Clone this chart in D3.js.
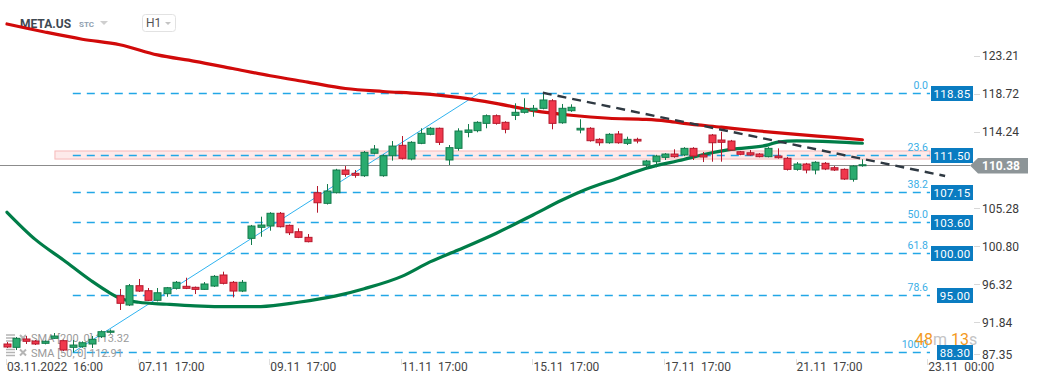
<!DOCTYPE html>
<html>
<head>
<meta charset="utf-8">
<script src="https://cdn.jsdelivr.net/npm/d3@7"></script>
<style>
	body { margin: 0; background: #fff; }
	svg { display: block; font-family: Roboto, "Noto Sans", sans-serif; }
</style>
</head>
<body>
<svg id="chart" width="1041" height="385"></svg>
<script>
// hourly candles, META.US, 03.11 16:00 -> 22.11
var opens = [89.29, 88.90, 89.88, 89.64, 89.37, 89.96, 89.68, 88.90, 88.97, 89.29,
	90.15, 90.67, 94.97, 93.88, 96.15, 95.56, 94.43, 95.21, 95.84, 96.08,
	95.96, 95.72, 96.11, 97.41, 96.55, 95.52, 101.72, 103.02, 103.17, 104.67,
	103.25, 102.50, 101.84, 107.09, 105.84, 107.09, 109.76, 109.37, 109.09, 111.73,
	109.09, 111.44, 112.67, 111.06, 112.90, 113.96, 114.67, 110.94, 112.31, 114.19,
	114.39, 115.25, 116.15, 115.37, 116.19, 116.55, 116.74, 117.02, 117.91, 115.32,
	116.74, 114.47, 114.67, 113.37, 112.97, 114.00, 112.90, 113.37, 110.35, 110.74,
	111.25, 111.64, 111.53, 112.31, 111.53, 113.88, 113.29, 113.17, 111.91, 111.79,
	111.64, 111.33, 111.41, 111.14, 109.84, 110.47, 109.76, 110.55, 110.03, 109.84,
	108.67, 110.27];
var highs = [89.52, 90.11, 90.23, 89.76, 89.70, 90.58, 89.80, 89.76, 89.60, 90.23,
	90.90, 91.00, 95.76, 96.35, 96.94, 95.88, 95.88, 96.00, 96.70, 97.09,
	96.05, 96.58, 97.40, 97.80, 96.70, 96.82, 103.30, 104.27, 104.80, 104.82,
	103.35, 102.90, 102.23, 107.88, 108.11, 109.90, 110.23, 109.76, 112.00, 112.70,
	111.60, 113.17, 113.76, 113.15, 114.67, 114.80, 114.75, 112.70, 114.67, 115.17,
	115.50, 116.30, 116.30, 115.50, 117.61, 118.20, 117.41, 118.85, 118.10, 117.53,
	117.49, 115.73, 114.80, 113.50, 114.10, 114.35, 113.68, 113.56, 110.95, 111.55,
	111.75, 112.20, 112.45, 112.45, 111.88, 114.00, 114.27, 113.30, 112.00, 112.11,
	111.75, 112.45, 112.31, 111.30, 110.70, 110.60, 110.80, 110.70, 110.23, 109.95,
	110.35, 111.02];
var lows = [88.82, 88.58, 89.29, 89.17, 89.25, 89.90, 88.45, 88.30, 88.85, 88.82,
	90.00, 90.50, 93.29, 93.76, 95.41, 94.35, 94.30, 94.85, 95.70, 95.75,
	95.17, 95.65, 96.00, 96.30, 94.78, 95.40, 100.94, 101.91, 102.62, 103.00,
	102.11, 101.75, 101.25, 104.74, 105.70, 107.00, 108.97, 108.85, 108.95, 111.60,
	108.97, 110.86, 111.00, 110.90, 112.80, 113.85, 112.70, 110.35, 112.03, 113.61,
	114.20, 114.67, 115.10, 114.08, 115.64, 116.40, 116.03, 116.90, 114.55, 115.20,
	116.60, 114.08, 113.10, 112.62, 112.85, 112.85, 112.70, 112.90, 109.84, 110.08,
	110.94, 111.20, 111.40, 110.94, 110.70, 110.74, 110.74, 112.00, 111.50, 111.45,
	111.25, 111.25, 111.10, 109.70, 109.68, 109.37, 109.25, 109.75, 109.65, 108.60,
	108.39, 110.15];
var closes = [88.94, 89.96, 89.61, 89.29, 89.61, 90.23, 88.58, 89.17, 89.44, 89.84,
	90.74, 90.82, 94.08, 96.15, 95.52, 94.43, 95.32, 95.91, 96.55, 95.84,
	95.72, 96.35, 97.25, 96.43, 95.52, 96.55, 103.17, 103.29, 104.67, 103.09,
	102.38, 101.84, 101.33, 105.91, 107.29, 109.76, 109.25, 109.14, 111.84, 112.23,
	111.44, 112.58, 111.14, 113.02, 114.08, 114.67, 113.02, 112.39, 114.35, 114.47,
	115.37, 116.15, 115.25, 114.55, 116.55, 116.90, 117.02, 118.00, 115.25, 117.02,
	117.14, 114.67, 113.21, 112.97, 113.96, 112.97, 113.37, 113.17, 110.82, 111.41,
	111.64, 111.33, 112.31, 111.41, 111.29, 112.97, 113.02, 112.11, 111.61, 111.53,
	111.33, 112.31, 111.21, 109.84, 110.47, 109.76, 110.67, 109.88, 109.76, 108.70,
	110.23, 110.38];

var sma200Bars = [0, 4, 8, 12, 16, 20, 24, 28, 32, 36, 40, 44, 48, 52, 56, 60, 64, 68, 70, 72, 76, 80, 84, 88, 91];
var sma200Vals = [126.94, 126.00, 125.15, 124.50, 123.30, 122.55, 121.70, 120.85, 120.10, 119.35, 119.00, 118.75,
	118.30, 117.60, 116.75, 116.20, 115.85, 115.72, 115.55, 115.25, 114.80, 114.35, 113.95, 113.60, 113.32];

var sma50Bars = [0, 3, 6, 9, 11, 12, 14, 17, 20, 24, 27, 31, 35, 38, 42, 45, 48, 52, 56, 59, 61, 65, 68, 72, 74, 77, 81, 82, 84, 88, 91];
var sma50Vals = [104.79, 101.60, 99.18, 96.70, 95.26, 94.67, 94.20, 93.97, 93.78, 93.68, 93.70, 94.20, 94.95, 95.80,
	97.25, 98.95, 100.35, 102.30, 104.50, 106.20, 107.21, 108.80, 109.96, 111.00, 111.55, 112.18, 112.72, 113.05,
	113.20, 113.08, 112.91];

var fibLevels = ['0.0', '23.6', '38.2', '50.0', '61.8', '78.6', '100.0'];
var fibPrices = [118.85, 111.50, 107.15, 103.60, 100.00, 95.00, 88.30];
var fibStartBar = 7;

var zoneBand = [111.05, 112.00];
var zoneStartBar = 5.1;

var trendBars = [57, 99.8];
var trendVals = [118.85, 109.06];

var fibLineBars = [7, 50.3];
var fibLineVals = [88.30, 118.85];

var priceTicks = [123.21, 118.72, 114.24, 105.28, 100.80, 96.32, 91.84, 87.35];
var timeTickBars = [0, 14, 28, 42, 56, 70, 84, 98];
var timeTickLabels = ['03.11.2022  16:00', '07.11  17:00', '09.11  17:00', '11.11  17:00',
	'15.11  17:00', '17.11  17:00', '21.11  17:00', '23.11  00:00'];

var lastPrice = 110.38;
var legendRows = ['SMA [200, 0] 113.32', 'SMA [50, 0] 112.91'];

var svg = d3.select('#chart');

var x = d3.scaleLinear().domain([0, 100]).range([7, 947]);
var y = d3.scaleLinear().domain([87.35, 123.21]).range([360.5, 55.7]);

var plotRight = 930;
var fibBlue = '#22a7e6';

// header
svg.append('text').attr('x', 20).attr('y', 28)
	.attr('font-size', 12).attr('font-weight', 'bold').attr('fill', '#3e4852')
	.text('META.US');
svg.append('text').attr('x', 79).attr('y', 27)
	.attr('font-size', 8).attr('font-weight', 'bold').attr('fill', '#8fa0b0')
	.text('STC');
svg.append('path').attr('d', 'M100,21L108,21L104,25Z').attr('fill', '#cfcfcf');
svg.append('rect').attr('x', 142.5).attr('y', 14.5).attr('width', 33).attr('height', 17)
	.attr('rx', 3).attr('fill', '#fff').attr('stroke', '#e2e2e2');
svg.append('text').attr('x', 146).attr('y', 27).attr('font-size', 12).attr('fill', '#555')
	.text('H1');
svg.append('path').attr('d', 'M165,22L171,22L168,25Z').attr('fill', '#c4c4c4');

// s/r zone
svg.append('rect')
	.attr('x', x(zoneStartBar)).attr('y', y(zoneBand[1]))
	.attr('width', plotRight - x(zoneStartBar))
	.attr('height', y(zoneBand[0]) - y(zoneBand[1]))
	.attr('fill', '#fdeaea').attr('stroke', '#f6b8b8').attr('stroke-width', 1);

// current price line
svg.append('line')
	.attr('x1', 0).attr('x2', 970)
	.attr('y1', Math.round(y(lastPrice)) + 0.5).attr('y2', Math.round(y(lastPrice)) + 0.5)
	.attr('stroke', '#8c8c8c').attr('stroke-width', 1.2);

// fibonacci levels
var fib = svg.append('g').attr('class', 'fib');
fibPrices.forEach(function(p, i) {
	var yy = Math.round(y(p)) + 0.5;
	fib.append('line')
		.attr('x1', x(fibStartBar)).attr('x2', plotRight)
		.attr('y1', yy).attr('y2', yy)
		.attr('stroke', fibBlue).attr('stroke-width', 1.3)
		.attr('stroke-dasharray', '8,6');
	fib.append('text')
		.attr('x', 928).attr('y', yy - 5)
		.attr('text-anchor', 'end').attr('font-size', 10.5)
		.attr('fill', '#3aaee6')
		.text(fibLevels[i]);
});

// legend (drawn under the candles)
var legend = svg.append('g').attr('class', 'legend');
legendRows.forEach(function(t, i) {
	var cy = 338 + i * 14.5;
	[-3, 0, 3].forEach(function(d) {
		legend.append('line').attr('x1', 6).attr('x2', 15)
			.attr('y1', cy + d).attr('y2', cy + d)
			.attr('stroke', '#b5b5b5').attr('stroke-width', 1.5);
	});
	legend.append('path')
		.attr('d', 'M20,' + (cy - 3) + 'L26,' + (cy + 3) + 'M26,' + (cy - 3) + 'L20,' + (cy + 3))
		.attr('stroke', '#b5b5b5').attr('stroke-width', 2);
	legend.append('text').attr('x', 31).attr('y', cy + 4)
		.attr('font-size', 11).attr('fill', '#9a9a9a')
		.text(t);
});

// fib anchor line
svg.append('line')
	.attr('x1', x(fibLineBars[0])).attr('y1', y(fibLineVals[0]))
	.attr('x2', x(fibLineBars[1])).attr('y2', y(fibLineVals[1]))
	.attr('stroke', '#2fb3f0').attr('stroke-width', 1);

// moving averages
var line = d3.line().curve(d3.curveMonotoneX);
svg.append('path')
	.datum(sma200Bars.map(function(b, i) { return [x(b), y(sma200Vals[i])]; }))
	.attr('d', line).attr('fill', 'none')
	.attr('stroke', '#d10a0a').attr('stroke-width', 3.2).attr('stroke-linecap', 'round');
svg.append('path')
	.datum(sma50Bars.map(function(b, i) { return [x(b), y(sma50Vals[i])]; }))
	.attr('d', line).attr('fill', 'none')
	.attr('stroke', '#007d48').attr('stroke-width', 3.2).attr('stroke-linecap', 'round');

// candles
var candles = svg.append('g').attr('class', 'candles')
	.selectAll('g').data(d3.range(opens.length)).enter().append('g');

var isUp = function(i) { return closes[i] >= opens[i]; };
var edge = function(i) { return isUp(i) ? '#137a4b' : '#b4182c'; };

candles.append('line')
	.attr('x1', function(i) { return Math.round(x(i)) + 0.5; })
	.attr('x2', function(i) { return Math.round(x(i)) + 0.5; })
	.attr('y1', function(i) { return y(highs[i]); })
	.attr('y2', function(i) { return y(lows[i]); })
	.attr('stroke', edge).attr('stroke-width', 1);

candles.append('rect')
	.attr('x', function(i) { return Math.round(x(i)) - 3; })
	.attr('y', function(i) { return y(Math.max(opens[i], closes[i])); })
	.attr('width', 7)
	.attr('height', function(i) { return Math.max(1, Math.abs(y(opens[i]) - y(closes[i]))); })
	.attr('fill', function(i) { return isUp(i) ? '#2aab6f' : '#f0384c'; })
	.attr('stroke', edge).attr('stroke-width', 1);

// trend line
svg.append('line')
	.attr('x1', x(trendBars[0])).attr('y1', y(trendVals[0]))
	.attr('x2', x(trendBars[1])).attr('y2', y(trendVals[1]))
	.attr('stroke', '#2f3942').attr('stroke-width', 2.4)
	.attr('stroke-dasharray', '9,6');

// fib price boxes
fibPrices.forEach(function(p) {
	var label = p.toFixed(2);
	var w = label.length > 5 ? 42 : 36;
	var yy = Math.round(y(p)) + 0.5;
	svg.append('rect')
		.attr('x', 973 - w).attr('y', yy - 7.5)
		.attr('width', w).attr('height', 15)
		.attr('fill', '#0a7cc1');
	svg.append('text')
		.attr('x', 973 - w / 2).attr('y', yy + 4)
		.attr('text-anchor', 'middle').attr('font-size', 11.5)
		.attr('fill', '#fff').attr('letter-spacing', 0.3)
		.text(label);
});

// price axis
var axis = svg.append('g').attr('class', 'axis y');
priceTicks.forEach(function(p) {
	var yy = Math.min(y(p), 354);
	axis.append('line').attr('x1', 974).attr('x2', 980)
		.attr('y1', Math.round(yy) + 0.5).attr('y2', Math.round(yy) + 0.5)
		.attr('stroke', '#d8d8d8');
	axis.append('text').attr('x', 982).attr('y', yy + 4.5)
		.attr('font-size', 12).attr('fill', '#3a3a3a')
		.text(p.toFixed(2));
});

// last price tag
var ly = Math.round(y(lastPrice)) + 0.5;
svg.append('path')
	.attr('d', 'M970,' + ly + 'L978,' + (ly - 7.5) + 'L1028,' + (ly - 7.5) + 'L1028,' + (ly + 8) + 'L978,' + (ly + 8) + 'Z')
	.attr('fill', '#8d9598');
svg.append('text').attr('x', 982).attr('y', ly + 4.5)
	.attr('font-size', 12).attr('font-weight', 'bold').attr('fill', '#fff')
	.text(lastPrice.toFixed(2));

// countdown
var cd = svg.append('text').attr('x', 915).attr('y', 345).attr('font-size', 16);
cd.append('tspan').attr('fill', '#f39a1e').text('48');
cd.append('tspan').attr('fill', '#c4c4c4').text('m ');
cd.append('tspan').attr('fill', '#f39a1e').text('13');
cd.append('tspan').attr('fill', '#c4c4c4').text('s');

// time axis
var xAxis = svg.append('g').attr('class', 'axis x');
timeTickBars.forEach(function(b, i) {
	var xx = Math.round(x(b)) - 0.5;
	xAxis.append('line').attr('x1', xx).attr('x2', xx)
		.attr('y1', 359).attr('y2', 365)
		.attr('stroke', '#e0e0e0');
	xAxis.append('text').attr('x', x(b)).attr('y', 371)
		.attr('font-size', 12).attr('fill', '#444')
		.attr('xml:space', 'preserve')
		.style('white-space', 'pre')
		.text(timeTickLabels[i]);
});
</script>
</body>
</html>
